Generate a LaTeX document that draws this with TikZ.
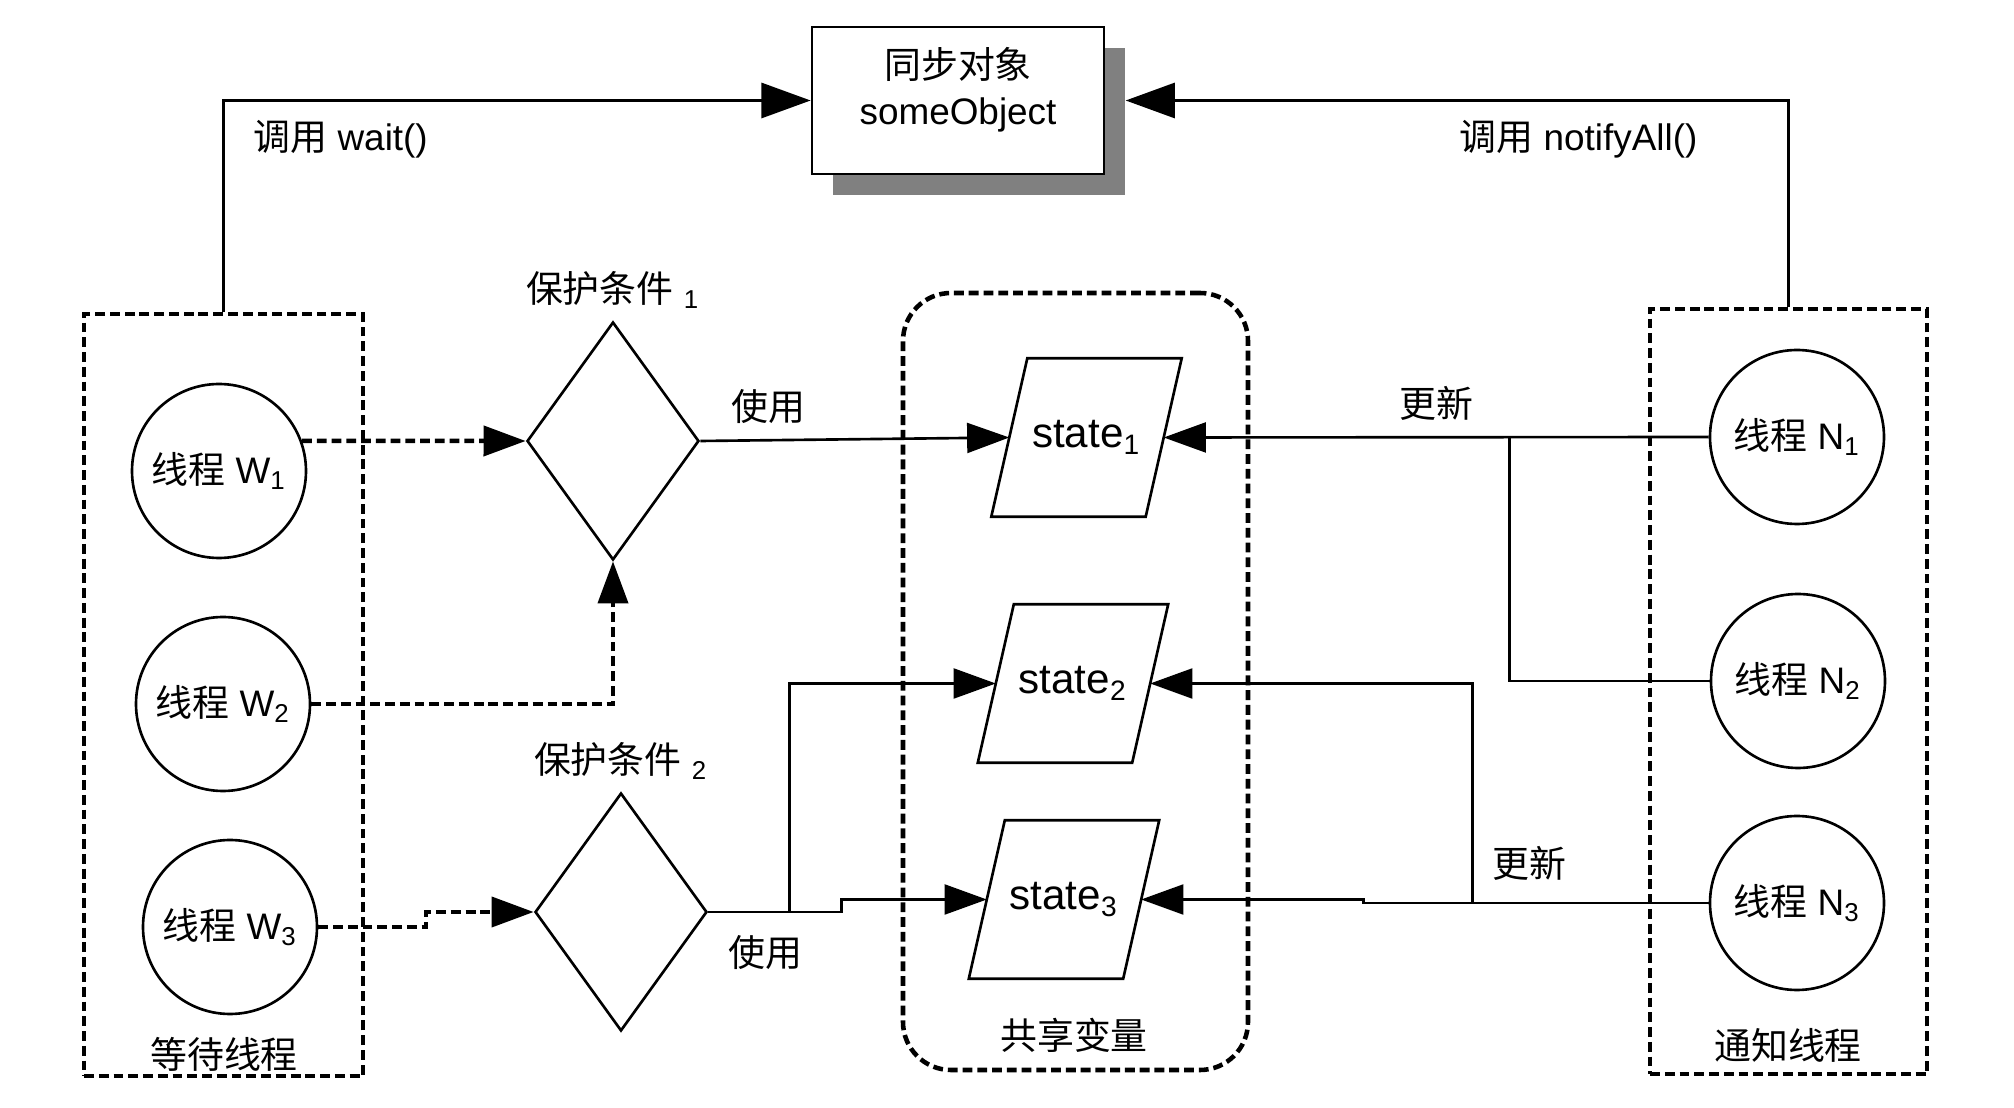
\documentclass[tikz,border=0pt]{standalone}
\usepackage{fontspec}
\setmainfont{Liberation Sans}
\newfontfamily\cjk{Noto Sans CJK SC}
\usetikzlibrary{positioning, arrows.meta, shapes.geometric, calc}

\begin{document}
\begin{tikzpicture}[
  font=\fontsize{10.5}{13}\selectfont,
  thread/.style={circle, draw, line width=0.75pt, minimum size=1.74cm, inner sep=0pt},
  guard/.style={diamond, draw, line width=0.75pt, minimum width=1.72cm,
                minimum height=2.38cm, inner sep=0pt},
  statevar/.style={rectangle, minimum width=1.53cm, minimum height=1.57cm, inner sep=0pt,
                   font=\fontsize{12}{14}\selectfont},
  groupbox/.style={draw, line width=1.3pt, dash pattern=on 2.8pt off 1.4pt},
  link/.style={line width=0.75pt},
  arr/.style={-{Triangle[length=12pt, width=8.5pt]}, line width=0.75pt},
  bigarr/.style={-{Triangle[length=14pt, width=10pt]}, line width=0.75pt},
  darr/.style={arr, line width=1.3pt, dash pattern=on 2.8pt off 1.4pt}
]
  \path[use as bounding box, fill=white] (0,0) rectangle (20.14,11.08);

  \node[fill=black!50, minimum width=2.92cm, minimum height=1.47cm] (objshadow) at (9.79,9.865) {};
  \node[draw, fill=white, line width=0.8pt, minimum width=2.92cm, minimum height=1.47cm] (obj) at (9.58,10.075) {};
  \node[align=center] (objtext) at (9.58,10.18) {{\cjk 同步对象}\\someObject};

  \node[groupbox, minimum width=2.79cm, minimum height=7.62cm] (wbox) at (2.235,4.13) {};
  \node[groupbox, minimum width=2.77cm, minimum height=7.65cm] (nbox) at (17.885,4.165) {};
  \node[groupbox, rounded corners=0.48cm, minimum width=3.45cm, minimum height=7.77cm] (shared) at (10.755,4.265) {};
  \node (wlabel) at (2.24,0.54) {\cjk 等待线程};
  \node (nlabel) at (17.88,0.63) {\cjk 通知线程};
  \node (slabel) at (10.74,0.73) {\cjk 共享变量};

  \node[thread] (W1) at (2.19,6.37) {{\cjk 线程} W\textsubscript{1}};
  \node[thread] (W2) at (2.23,4.04) {{\cjk 线程} W\textsubscript{2}};
  \node[thread] (W3) at (2.30,1.81) {{\cjk 线程} W\textsubscript{3}};
  \node[thread] (N1) at (17.97,6.71) {{\cjk 线程} N\textsubscript{1}};
  \node[thread] (N2) at (17.98,4.27) {{\cjk 线程} N\textsubscript{2}};
  \node[thread] (N3) at (17.97,2.05) {{\cjk 线程} N\textsubscript{3}};

  \node[guard] (G1) at (6.13,6.67) {};
  \node[guard] (G2) at (6.21,1.96) {};
  \node[above=0pt of G1] (G1label) {{\cjk 保护条件} \textsubscript{1}};
  \node[above=0pt of G2] (G2label) {{\cjk 保护条件} \textsubscript{2}};

  \node[statevar] (S1) at (10.865,6.705) {state\textsubscript{1}};
  \node[statevar] (S2) at (10.73,4.245) {state\textsubscript{2}};
  \node[statevar] (S3) at (10.64,2.085) {state\textsubscript{3}};
  \foreach \s in {S1,S2,S3}
    \draw[link] ([xshift=-0.18cm]\s.south west) -- ([xshift=-0.18cm]\s.south east)
      -- ([xshift=0.18cm]\s.north east) -- ([xshift=0.18cm]\s.north west) -- cycle;

  \draw[bigarr] (wbox.north) |- (obj.west)
    node[pos=0.5, below right=0.07cm and 0.17cm] (callwait) {{\cjk 调用} wait()};
  \draw[bigarr] (nbox.north) |- (obj.east -| objshadow.east)
    node[pos=0.5, below left=0.07cm and 0.78cm] (callnotify) {{\cjk 调用} notifyAll()};

  \draw[darr] (W1.20) -- (G1.west);
  \draw[darr] (W2.east) -| (G1.south);
  \draw[darr] (W3.east) -| ($(W3.east)!0.5!(G2.west)$) |- (G2.west);

  \draw[arr] (G1.east) -- node[pos=0.22, above=1pt] (use1) {\cjk 使用} (S1.west);
  \draw[arr] (G2.east) -- node[pos=0.7, below=3pt] (use2) {\cjk 使用} ++(0.81,0) coordinate (fork) |- (S2.west);
  \draw[arr] (fork) -- ++(0.52,0) |- (S3.west);

  \draw[arr] (N1.west) -- coordinate[pos=0.366] (j1) node[midway, above=1pt] (upd1) {\cjk 更新} (S1.east);
  \draw[link] (N2.west) -| (j1);
  \draw[arr] (N3.west) -- coordinate[pos=0.684] (j3) ++(-3.45,0) |- (S3.east);
  \draw[arr] (j3) |- node[pos=0.09, right=2pt] (upd2) {\cjk 更新} (S2.east);
\end{tikzpicture}
\end{document}
